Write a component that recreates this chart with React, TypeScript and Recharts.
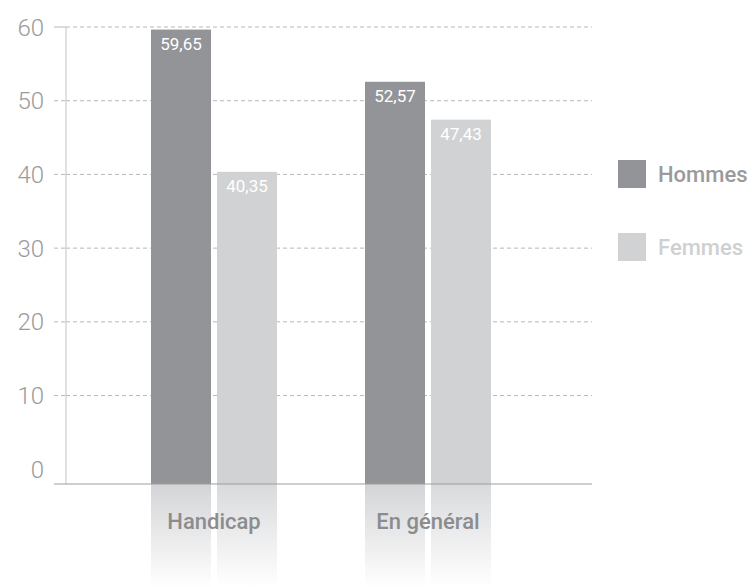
import React from 'react';
import { BarChart, Bar, XAxis, YAxis, CartesianGrid, LabelList } from 'recharts';

const categories = ['Handicap', 'En général'];
const hommes = [59.65, 52.57];
const femmes = [40.35, 47.43];
const yTicks = [-2, 0, 10, 20, 30, 40, 50, 60];
const gridValues = [10, 20, 30, 40, 50, 60];

const series = [
  { key: 'hommes', name: 'Hommes', fill: '#939497', reflect: '#d3d4d6', text: '#9a9a9c' },
  { key: 'femmes', name: 'Femmes', fill: '#d1d2d4', reflect: '#d9dadc', text: '#cfd0d2' },
];

const data = categories.map((name, i) => ({ name, hommes: hommes[i], femmes: femmes[i] }));

const FONT = 'Roboto, "DejaVu Sans", sans-serif';

// bar runs down to the axis line, then a faded reflection below it
function makeShape(fill: string, reflect: string, id: string) {
  return (props: any) => {
    const { x, y, width, height, background, index } = props;
    const bottom = background ? background.y + background.height : y + height;
    const gid = `${id}-${index}`;
    return (
      <g>
        <defs>
          <linearGradient id={gid} x1="0" y1="0" x2="0" y2="1">
            <stop offset="0%" stopColor={reflect} stopOpacity={1} />
            <stop offset="100%" stopColor={reflect} stopOpacity={0} />
          </linearGradient>
        </defs>
        <rect x={x} y={y} width={width} height={bottom - y} fill={fill} />
        <rect x={x} y={bottom} width={width} height={103} fill={`url(#${gid})`} />
      </g>
    );
  };
}

const YTick = (props: any) => {
  const { x, y, payload } = props;
  const v = payload.value;
  let line = null;
  if (v === -2 || v === 60) {
    line = <line x1={x + 10} x2={x + 22} y1={y} y2={y} stroke={v === -2 ? '#9d9d9d' : '#b8b8b8'} />;
  } else if (v !== 0) {
    line = <line x1={x + 10} x2={x + 22} y1={y} y2={y} stroke="#b8b8b8" strokeDasharray="4 3" />;
  }
  return (
    <g>
      {line}
      {v >= 0 && (
        <text x={x} y={y} dy="0.36em" textAnchor="end" fill="#9b9b9b" fontSize={24} fontWeight={300} fontFamily={FONT}>
          {v}
        </text>
      )}
    </g>
  );
};

export default function App() {
  return (
    <div style={{ position: 'absolute', left: 0, top: 0, width: 753, height: 587 }}>
      <BarChart
        width={753}
        height={587}
        data={data}
        margin={{ top: 27, right: 161, bottom: 0, left: 0 }}
        barSize={60}
        barGap={6}
      >
        <CartesianGrid
          vertical={false}
          horizontalValues={gridValues}
          stroke="#b8b8b8"
          strokeDasharray="4 3"
        />
        <YAxis
          type="number"
          domain={[-2, 60]}
          ticks={yTicks}
          width={66}
          tickLine={false}
          tickSize={0}
          tickMargin={22}
          axisLine={{ stroke: '#c2c2c2' }}
          tick={<YTick />}
          interval={0}
        />
        {series.map((s) => (
          <Bar
            key={s.key}
            dataKey={s.key}
            name={s.name}
            fill={s.fill}
            isAnimationActive={false}
            shape={makeShape(s.fill, s.reflect, s.key)}
          >
            <LabelList
              dataKey={s.key}
              position="insideTop"
              offset={8}
              fill="#ffffff"
              fontSize={17}
              fontFamily={FONT}
              formatter={(v: any) => String(v).replace('.', ',')}
            />
          </Bar>
        ))}
        <XAxis
          dataKey="name"
          height={103}
          padding={{ left: 41, right: 57 }}
          tickLine={false}
          tickSize={0}
          tickMargin={29}
          axisLine={{ stroke: '#9d9d9d' }}
          tick={{ fill: '#8c8c8e', fontSize: 22, fontWeight: 500, fontFamily: FONT }}
        />
      </BarChart>
      <div style={{ position: 'absolute', left: 618, top: 160, fontFamily: FONT }}>
        {series.map((s, i) => (
          <div
            key={s.key}
            style={{ display: 'flex', alignItems: 'center', height: 28, marginTop: i === 0 ? 0 : 45 }}
          >
            <div style={{ width: 28, height: 28, background: s.fill }} />
            <span style={{ marginLeft: 12, fontSize: 22, fontWeight: 500, color: s.text }}>{s.name}</span>
          </div>
        ))}
      </div>
    </div>
  );
}
